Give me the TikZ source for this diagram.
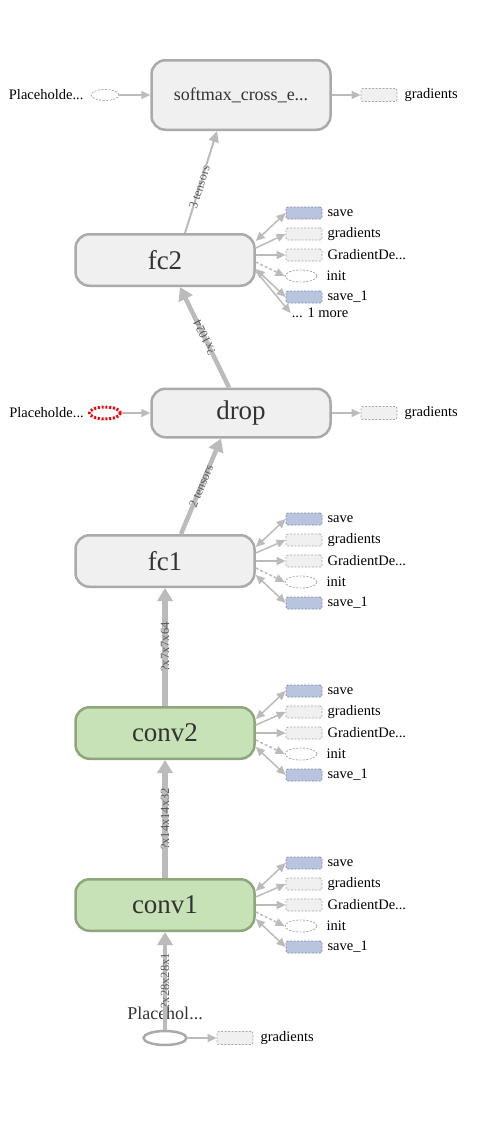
\documentclass[tikz,border=0pt]{standalone}
\usepackage{fontspec}
\setmainfont{Liberation Serif}
\usetikzlibrary{arrows.meta,positioning,shapes.geometric}
\definecolor{opfill}{HTML}{F0F0F0}
\definecolor{opdraw}{HTML}{AAAAAA}
\definecolor{optext}{HTML}{333333}
\definecolor{convfill}{HTML}{C6E2B6}
\definecolor{convdraw}{HTML}{8DA67C}
\definecolor{edgegray}{HTML}{BBBBBB}
\definecolor{savefill}{HTML}{B9C5DF}
\definecolor{savedraw}{HTML}{7E8CAB}
\definecolor{gradraw}{HTML}{A8A8A8}
\definecolor{dimtext}{HTML}{5A5A5A}

\tikzset{
  op/.style={draw=opdraw, fill=opfill, line width=2.5pt, rounded corners=14pt,
    minimum width=179pt, minimum height=51.5pt, text=optext, font=\fontsize{27}{30}\selectfont},
  convop/.style={op, draw=convdraw, fill=convfill},
  savebox/.style={draw=savedraw, fill=savefill, dash pattern=on 2pt off 1.5pt, line width=0.8pt,
    rounded corners=2pt, minimum width=36pt, minimum height=12pt, inner sep=0pt},
  gradbox/.style={savebox, draw=gradraw, fill=opfill},
  initnode/.style={ellipse, draw=gradraw, fill=white, dash pattern=on 2pt off 1.5pt, line width=0.8pt,
    minimum width=32pt, minimum height=12pt, inner sep=0pt},
  sidetext/.style={inner sep=1pt, font=\fontsize{14.5}{16}\selectfont},
  flow/.style={draw=edgegray, line width=1.5pt, -{Triangle[length=9pt,width=8pt]}},
  twoway/.style={{Triangle[length=9pt,width=8pt]}-{Triangle[length=9pt,width=8pt]}},
  tensor/.style={draw=edgegray, line width=6pt, -{Triangle[length=13pt,width=15pt]}},
  dimlabel/.style={sloped, allow upside down, inner sep=0pt, text=dimtext, font=\fontsize{12.5}{13}\selectfont},
}

\begin{document}
\begin{tikzpicture}[x=1pt, y=-1pt]
  \useasboundingbox (0,0) rectangle (477,1125);

  % main ops
  \node[op, minimum height=69.5pt, font=\fontsize{18}{20}\selectfont] (softmax) at (241,95) {softmax\_cross\_e...};
  \node[op, on grid] (fc2) [below left=165pt and 76pt of softmax] {fc2};
  \node[op, minimum height=48.5pt, on grid] (drop) [below right=153pt and 76pt of fc2] {drop};
  \node[op, on grid] (fc1) [below left=148pt and 76pt of drop] {fc1};
  \node[convop, on grid] (conv2) [below=172pt of fc1] {conv2};
  \node[convop, on grid] (conv1) [below=172pt of conv2] {conv1};
  \node[ellipse, draw=opdraw, fill=white, line width=2.5pt, minimum width=43pt, minimum height=14pt,
    inner sep=0pt, on grid] (input) [below=133pt of conv1] {};
  \node[text=optext, font=\fontsize{18}{20}\selectfont, on grid] (input_name) [above=25pt of input] {Placehol...};

  % softmax row
  \node[initnode, minimum width=28pt, minimum height=11pt, on grid] (sm_in) [left=136pt of softmax] {};
  \node[sidetext] (sm_in_name) [left=6pt of sm_in] {Placeholde...};
  \node[gradbox, minimum height=13pt, on grid] (sm_grad) [right=138pt of softmax] {};
  \node[sidetext] (sm_grad_name) [right=6pt of sm_grad] {gradients};

  % drop row
  \node[ellipse, draw=red, line width=3pt, dash pattern=on 2pt off 1.8pt, minimum width=31pt,
    minimum height=12pt, inner sep=0pt, on grid] (drop_in) [left=136pt of drop] {};
  \node[sidetext] (drop_in_name) [left=3pt of drop_in] {Placeholde...};
  \node[gradbox, minimum height=13pt, on grid] (drop_grad) [right=138pt of drop] {};
  \node[sidetext] (drop_grad_name) [right=6pt of drop_grad] {gradients};

  % fc2 side nodes
  \node[savebox, on grid] (fc2_save) [above right=47pt and 139pt of fc2] {};
  \node[gradbox, on grid] (fc2_grad) [above right=26pt and 139pt of fc2] {};
  \node[gradbox, on grid] (fc2_gd) [above right=5pt and 139pt of fc2] {};
  \node[initnode, on grid] (fc2_init) [below right=16pt and 136pt of fc2] {};
  \node[savebox, on grid] (fc2_save1) [below right=37pt and 139pt of fc2] {};
  \node[sidetext, on grid] (fc2_more) [below right=53pt and 155pt of fc2] {... 1 more};
  \node[sidetext] (fc2_save_name) [right=4pt of fc2_save] {save};
  \node[sidetext] (fc2_grad_name) [right=4pt of fc2_grad] {gradients};
  \node[sidetext] (fc2_gd_name) [right=4pt of fc2_gd] {GradientDe...};
  \node[sidetext] (fc2_init_name) [right=8pt of fc2_init] {init};
  \node[sidetext] (fc2_save1_name) [right=4pt of fc2_save1] {save\_1};

  \draw[flow, twoway] ([yshift=19pt]fc2.east) -- (fc2_save.west);
  \draw[flow] ([yshift=12pt]fc2.east) -- (fc2_grad.west);
  \draw[flow] ([yshift=5pt]fc2.east) -- (fc2_gd.west);
  \draw[flow, dash pattern=on 3pt off 2pt] ([yshift=-2pt]fc2.east) -- (fc2_init.west);
  \draw[flow, twoway] ([yshift=-9pt]fc2.east) -- (fc2_save1.west);
  \draw[flow] ([yshift=-11pt]fc2.east) -- (fc2_more.west);

  % side nodes of fc1, conv2, conv1
  \foreach \op in {fc1,conv2,conv1} {
    \node[savebox, on grid] (\op_save) [above right=42pt and 139pt of \op] {};
    \node[gradbox, on grid] (\op_grad) [above right=21pt and 139pt of \op] {};
    \node[gradbox, on grid] (\op_gd) [right=139pt of \op] {};
    \node[initnode, on grid] (\op_init) [below right=21pt and 136pt of \op] {};
    \node[savebox, on grid] (\op_save1) [below right=42pt and 139pt of \op] {};
    \node[sidetext] (\op_save_name) [right=4pt of \op_save] {save};
    \node[sidetext] (\op_grad_name) [right=4pt of \op_grad] {gradients};
    \node[sidetext] (\op_gd_name) [right=4pt of \op_gd] {GradientDe...};
    \node[sidetext] (\op_init_name) [right=8pt of \op_init] {init};
    \node[sidetext] (\op_save1_name) [right=4pt of \op_save1] {save\_1};

    \draw[flow, twoway] ([yshift=14pt]\op.east) -- (\op_save.west);
    \draw[flow] ([yshift=8pt]\op.east) -- (\op_grad.west);
    \draw[flow] (\op.east) -- (\op_gd.west);
    \draw[flow, dash pattern=on 3pt off 2pt] ([yshift=-7pt]\op.east) -- (\op_init.west);
    \draw[flow, twoway] ([yshift=-14pt]\op.east) -- (\op_save1.west);
  }

  % input row
  \node[gradbox, minimum height=13pt, on grid] (input_grad) [right=70pt of input] {};
  \node[sidetext] (input_grad_name) [right=6pt of input_grad] {gradients};

  \draw[flow] (sm_in) -- (softmax);
  \draw[flow] (softmax) -- (sm_grad);
  \draw[flow] (drop_in) -- (drop);
  \draw[flow] (drop) -- (drop_grad);
  \draw[flow] (input) -- (input_grad);

  % tensors
  \draw[tensor, line width=2pt, -{Triangle[length=11pt,width=10pt]}] ([xshift=20pt]fc2.north)
    -- node[dimlabel, pos=0.45] {3 tensors} ([xshift=-24pt]softmax.south);
  \draw[tensor, line width=4.5pt] ([xshift=-12pt]drop.north) -- node[dimlabel] {?x1024} ([xshift=15pt]fc2.south);
  \draw[tensor, line width=4.5pt] ([xshift=16pt]fc1.north) -- node[dimlabel] {2 tensors} ([xshift=-20pt]drop.south);
  \draw[tensor] (conv2) -- node[dimlabel] {?x7x7x64} (fc1);
  \draw[tensor] (conv1) -- node[dimlabel] {?x14x14x32} (conv2);
  \draw[tensor, line width=4.5pt] (input) -- node[dimlabel] {?x28x28x1} (conv1);
\end{tikzpicture}
\end{document}
